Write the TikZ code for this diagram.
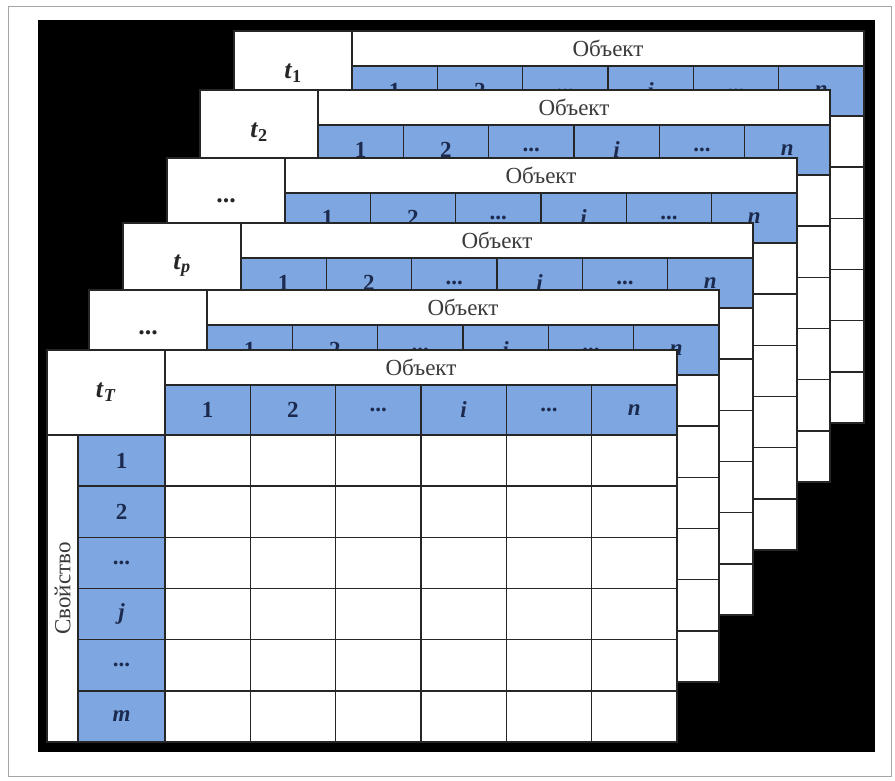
\documentclass[tikz,border=0pt]{standalone}
\usepackage{fontspec}
\setmainfont{Liberation Serif}
\usepackage{tikz}
\usetikzlibrary{positioning}
\usepackage{xcolor}
\definecolor{tbblue}{HTML}{7EA6E0}
\definecolor{tbnavy}{HTML}{1B2A4E}
\definecolor{tbgray}{HTML}{3A3A3A}

\newcommand{\dotslab}{\textbf{...}}
\newcommand{\tname}[1]{\textbf{\textit{t}\textsubscript{#1}}}

% one layer of the stack: x, y of the upper left corner, time label, name
\newcommand{\objtable}[4]{%
  \begin{scope}[shift={(#1,#2)}]
    \fill[white] (0,0) rectangle (630,392);
    \fill[tbblue] (118,35) rectangle (630,85);
    \fill[tbblue] (31,85) rectangle (118,392);
    \foreach \k in {1,...,5} {
      \draw[gridline] ({118+85.33*\k},35) -- ({118+85.33*\k},392);
      \draw[gridline] (31,{85+51.17*\k}) -- (630,{85+51.17*\k});
    }
    \draw[gridline] (118,35) -- (630,35);
    \draw[gridline] (0,85) -- (630,85);
    \draw[gridline] (118,0) -- (118,392);
    \draw[gridline] (31,85) -- (31,392);
    \draw[gridline, line width=1.8pt] (0,0) rectangle (630,392);
    \node[tlabel] (#4-t) at (59,42.5) {#3};
    \node[objlabel] (#4-obj) at (374,17.5) {Объект};
    \node[proplabel, rotate=90] (#4-prop) at (15.5,238.5) {Свойство};
    \foreach \lab [count=\k] in {1,2,\dotslab,\textit{i},\dotslab,\textit{n}}
      \node[numlabel] (#4-c\k) at ({118+85.33*(\k-0.5)},60) {\lab};
    \foreach \lab [count=\k] in {1,2,\dotslab,\textit{j},\dotslab,\textit{m}}
      \node[numlabel] (#4-r\k) at (74.5,{85+51.17*(\k-0.5)}) {\lab};
  \end{scope}}

\begin{document}
\begin{tikzpicture}[
    x=1pt, y=-1pt,
    gridline/.style={draw=black!85, line width=1.6pt},
    tlabel/.style={inner sep=0pt, font=\fontsize{26}{28}\selectfont, text=black!85},
    objlabel/.style={inner sep=0pt, font=\fontsize{23}{25}\selectfont, text=tbgray},
    proplabel/.style={inner sep=0pt, font=\fontsize{23}{25}\selectfont, text=tbgray},
    numlabel/.style={inner sep=0pt, font=\bfseries\fontsize{23}{25}\selectfont, text=tbnavy},
  ]
    \useasboundingbox (0,0) rectangle (895,780);
    \draw[gray!70, line width=1pt] (8,6) rectangle (891,776);
    \fill[black] (38,20) rectangle (875,752);

    % stack of layers, from the back to the front
    \objtable{234}{31}{\tname{1}}{L1}
    \objtable{200}{90}{\tname{2}}{L2}
    \objtable{167}{158}{\dotslab}{L3}
    \objtable{123}{223}{\tname{\textit{p}}}{Lp}
    \objtable{89}{290}{\dotslab}{L5}
    \objtable{47}{350}{\tname{\textit{T}}}{LT}
  \end{tikzpicture}
\end{document}
